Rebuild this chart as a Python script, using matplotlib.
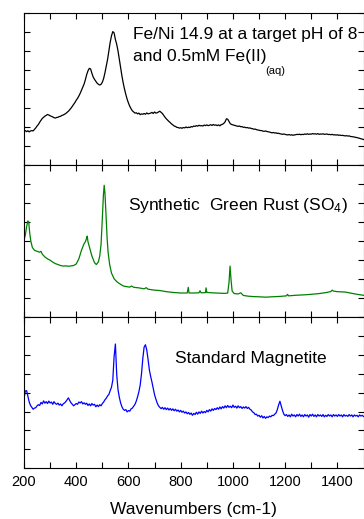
import numpy as np
import matplotlib
matplotlib.use('Agg')
import matplotlib.pyplot as plt
from matplotlib.ticker import MultipleLocator, FixedLocator

plt.rcParams['font.family'] = ['Liberation Sans', 'DejaVu Sans']
plt.rcParams['mathtext.fontset'] = 'custom'
plt.rcParams['mathtext.rm'] = 'Liberation Sans'
plt.rcParams['mathtext.it'] = 'Liberation Sans'

# Fe/Ni 14.9 sample, pH 8, 0.5 mM Fe(II), sampled every 5 cm-1
wn_feni = list(range(200, 1505, 5))
int_feni = [1.76, 1.80, 1.74, 1.79, 1.73, 1.78, 1.80, 1.78, 1.86, 1.94, 2.04, 2.12, 2.24, 2.34, 2.44, 2.50,
            2.56, 2.60, 2.65, 2.62, 2.58, 2.55, 2.52, 2.48, 2.46, 2.49, 2.50, 2.54, 2.55, 2.60, 2.62, 2.66,
            2.70, 2.76, 2.82, 2.90, 2.98, 3.08, 3.18, 3.28, 3.40, 3.50, 3.62, 3.76, 3.92, 4.08, 4.25, 4.48,
            4.75, 4.95, 5.08, 5.05, 4.82, 4.62, 4.50, 4.40, 4.30, 4.24, 4.20, 4.24, 4.35, 4.55, 4.85, 5.20,
            5.55, 6.00, 6.45, 6.80, 7.02, 6.95, 6.60, 6.35, 6.00, 5.55, 5.10, 4.68, 4.30, 3.98, 3.70, 3.45,
            3.25, 3.08, 2.95, 2.84, 2.78, 2.72, 2.74, 2.68, 2.72, 2.64, 2.68, 2.66, 2.70, 2.66, 2.73, 2.68,
            2.70, 2.72, 2.76, 2.70, 2.78, 2.72, 2.74, 2.78, 2.82, 2.76, 2.70, 2.60, 2.50, 2.42, 2.35, 2.28,
            2.22, 2.15, 2.10, 2.04, 2.02, 1.97, 1.96, 1.93, 1.95, 1.92, 1.96, 1.94, 1.99, 1.95, 1.98, 1.96,
            2.01, 1.99, 2.04, 2.02, 2.06, 2.03, 2.08, 2.05, 2.06, 2.04, 2.09, 2.06, 2.10, 2.06, 2.08, 2.11,
            2.07, 2.12, 2.08, 2.10, 2.06, 2.10, 2.05, 2.11, 2.13, 2.18, 2.26, 2.42, 2.40, 2.28, 2.16, 2.12,
            2.10, 2.08, 2.06, 2.04, 2.02, 2.04, 2.00, 2.01, 1.97, 1.98, 1.95, 1.96, 1.93, 1.94, 1.91, 1.90,
            1.87, 1.88, 1.85, 1.83, 1.82, 1.80, 1.80, 1.77, 1.76, 1.78, 1.75, 1.74, 1.72, 1.70, 1.68, 1.70,
            1.67, 1.68, 1.65, 1.66, 1.63, 1.62, 1.60, 1.62, 1.60, 1.58, 1.57, 1.59, 1.56, 1.58, 1.55, 1.57,
            1.58, 1.60, 1.59, 1.61, 1.58, 1.60, 1.59, 1.62, 1.60, 1.63, 1.60, 1.62, 1.61, 1.64, 1.62, 1.63,
            1.61, 1.64, 1.60, 1.62, 1.61, 1.63, 1.60, 1.61, 1.62, 1.59, 1.60, 1.58, 1.60, 1.57, 1.58, 1.56,
            1.58, 1.55, 1.56, 1.54, 1.55, 1.53, 1.52, 1.53, 1.51, 1.52, 1.49, 1.48, 1.47, 1.46, 1.44, 1.43,
            1.41, 1.39, 1.37, 1.35, 1.33]

# synthetic green rust (sulfate)
wn_gr = [200, 205, 210, 215, 218, 222, 226, 232, 240, 250, 260, 265, 270, 280, 290, 300, 310,
         320, 330, 340, 350, 360, 370, 380, 390, 400, 410, 420, 430, 435, 440, 442, 445, 450,
         460, 470, 477, 485, 490, 495, 500, 504, 507, 510, 514, 518, 522, 528, 535, 545, 555,
         565, 580, 595, 605, 612, 620, 640, 660, 668, 675, 700, 720, 745, 770, 800, 825, 829,
         832, 850, 870, 874, 878, 895, 897, 900, 920, 950, 970, 980, 985, 989, 993, 997, 1005,
         1020, 1030, 1040, 1060, 1080, 1100, 1126, 1150, 1180, 1205, 1209, 1213, 1240, 1270,
         1300, 1330, 1360, 1375, 1380, 1385, 1400, 1430, 1460, 1480, 1500]
int_gr = [4.04, 4.30, 4.75, 5.05, 5.00, 4.40, 4.00, 3.65, 3.50, 3.45, 3.40, 3.45, 3.30, 3.15, 3.05, 2.98, 2.88,
          2.80, 2.75, 2.70, 2.67, 2.68, 2.66, 2.68, 2.70, 2.78, 3.05, 3.50, 3.85, 3.95, 4.15, 4.25, 3.95, 3.70,
          3.20, 2.85, 2.75, 2.90, 3.20, 3.80, 5.20, 6.40, 6.93, 6.50, 5.40, 4.20, 3.40, 2.75, 2.30, 2.00, 1.85,
          1.75, 1.62, 1.58, 1.56, 1.62, 1.55, 1.52, 1.47, 1.53, 1.45, 1.40, 1.38, 1.32, 1.28, 1.25, 1.25, 1.55,
          1.25, 1.25, 1.26, 1.37, 1.26, 1.27, 1.52, 1.28, 1.26, 1.24, 1.23, 1.25, 1.80, 2.67, 1.90, 1.35, 1.22,
          1.20, 1.26, 1.12, 1.08, 1.06, 1.05, 1.03, 1.05, 1.07, 1.10, 1.18, 1.10, 1.13, 1.15,
          1.18, 1.22, 1.28, 1.33, 1.40, 1.35, 1.32, 1.30, 1.22, 1.17, 1.13]

# standard magnetite, sampled every 5 cm-1
wn_mag = list(range(200, 1505, 5))
int_mag = [3.67, 4.08, 4.10, 3.80, 3.50, 3.32, 3.22, 3.12, 3.18, 3.20, 3.30, 3.36, 3.32, 3.48, 3.40, 3.56,
           3.44, 3.52, 3.42, 3.55, 3.45, 3.50, 3.38, 3.52, 3.42, 3.38, 3.44, 3.34, 3.40, 3.30, 3.40, 3.45,
           3.52, 3.62, 3.72, 3.58, 3.46, 3.38, 3.30, 3.36, 3.42, 3.38, 3.50, 3.45, 3.52, 3.40, 3.46, 3.38,
           3.44, 3.32, 3.40, 3.30, 3.42, 3.34, 3.38, 3.25, 3.34, 3.26, 3.36, 3.30, 3.42, 3.50, 3.62, 3.70,
           3.82, 3.90, 4.10, 4.28, 4.65, 5.90, 6.56, 4.95, 4.15, 3.75, 3.45, 3.25, 3.12, 3.06, 3.10, 2.98,
           3.05, 3.02, 3.14, 3.18, 3.28, 3.38, 3.55, 3.78, 4.05, 4.40, 5.00, 5.80, 6.40, 6.52, 6.25, 5.75,
           5.20, 4.85, 4.55, 4.20, 3.88, 3.65, 3.45, 3.30, 3.22, 3.15, 3.22, 3.12, 3.20, 3.10, 3.18, 3.08,
           3.16, 3.06, 3.14, 3.04, 3.12, 3.02, 3.08, 2.98, 3.06, 2.96, 3.02, 2.92, 2.98, 2.88, 2.95, 2.85,
           2.92, 2.80, 2.90, 2.84, 2.96, 2.86, 2.98, 2.90, 3.02, 2.92, 3.00, 2.94, 3.06, 2.98, 3.10, 3.02,
           3.14, 3.06, 3.16, 3.10, 3.20, 3.12, 3.24, 3.14, 3.26, 3.18, 3.30, 3.20, 3.32, 3.22, 3.28, 3.20,
           3.34, 3.22, 3.28, 3.18, 3.30, 3.20, 3.26, 3.16, 3.24, 3.18, 3.26, 3.16, 3.22, 3.12, 3.08, 2.98,
           2.94, 2.84, 2.86, 2.76, 2.80, 2.70, 2.78, 2.66, 2.74, 2.64, 2.72, 2.68, 2.76, 2.72, 2.80, 2.78,
           2.86, 2.92, 3.10, 3.35, 3.54, 3.30, 3.05, 2.86, 2.78, 2.84, 2.74, 2.82, 2.72, 2.86, 2.76, 2.82,
           2.72, 2.84, 2.76, 2.86, 2.74, 2.82, 2.72, 2.84, 2.76, 2.82, 2.70, 2.84, 2.76, 2.86, 2.74, 2.82,
           2.72, 2.84, 2.76, 2.82, 2.74, 2.84, 2.72, 2.80, 2.74, 2.84, 2.76, 2.82, 2.72, 2.84, 2.76, 2.82,
           2.74, 2.84, 2.76, 2.82, 2.72, 2.84, 2.76, 2.80, 2.74, 2.84, 2.76, 2.82, 2.72, 2.82, 2.76, 2.80,
           2.72, 2.82, 2.76, 2.80, 2.74]

series = [(wn_feni, int_feni, 'black', 0.9),
          (wn_gr, int_gr, '#008000', 0.9),
          (wn_mag, int_mag, '#0000ff', 0.9)]

fig = plt.figure(figsize=(3.64, 5.19), dpi=100)
W, H = 364.0, 519.0
left, right = 24 / W, 363.5 / W
tops = [13, 165, 316.7]
ph = 151.7

axes = []
for i, (x, y, c, lw) in enumerate(series):
    b = (H - tops[i] - ph) / H
    ax = fig.add_axes([left, b, right - left, ph / H])
    ax.plot(x, y, color=c, lw=lw)
    ax.set_xlim(200, 1500)
    ax.set_ylim(0, 8)
    ax.xaxis.set_major_locator(MultipleLocator(200))
    ax.xaxis.set_minor_locator(FixedLocator(np.arange(300, 1500, 200)))
    ax.yaxis.set_major_locator(MultipleLocator(1))
    ax.tick_params(which='both', direction='in', top=True, right=True,
                   length=4.5, width=0.8, labelsize=10.5, pad=5)
    ax.set_yticklabels([])
    if i < 2:
        ax.set_xticklabels([])
    for s in ax.spines.values():
        s.set_linewidth(0.8)
    axes.append(ax)

fs = 12.5
axes[0].text(616, 6.84, 'Fe/Ni 14.9 at a target pH of 8', fontsize=fs, va='center', ha='left')
t = axes[0].text(616, 5.68, 'and 0.5mM Fe(II)', fontsize=fs, va='center', ha='left')
# subscript hangs off the end of the second line
axes[0].annotate('(aq)', xy=(1, 0), xycoords=t, xytext=(-0.5, -4.5),
                 textcoords='offset points', fontsize=8, va='center', ha='left')
axes[1].text(597, 5.88, r'Synthetic  Green Rust (SO$_4$)', fontsize=fs, va='center', ha='left')
axes[2].text(780, 5.79, 'Standard Magnetite', fontsize=fs, va='center', ha='left')
axes[2].set_xlabel('Wavenumbers (cm-1)', fontsize=fs, labelpad=9)

fig.savefig('out.png', dpi=100)
